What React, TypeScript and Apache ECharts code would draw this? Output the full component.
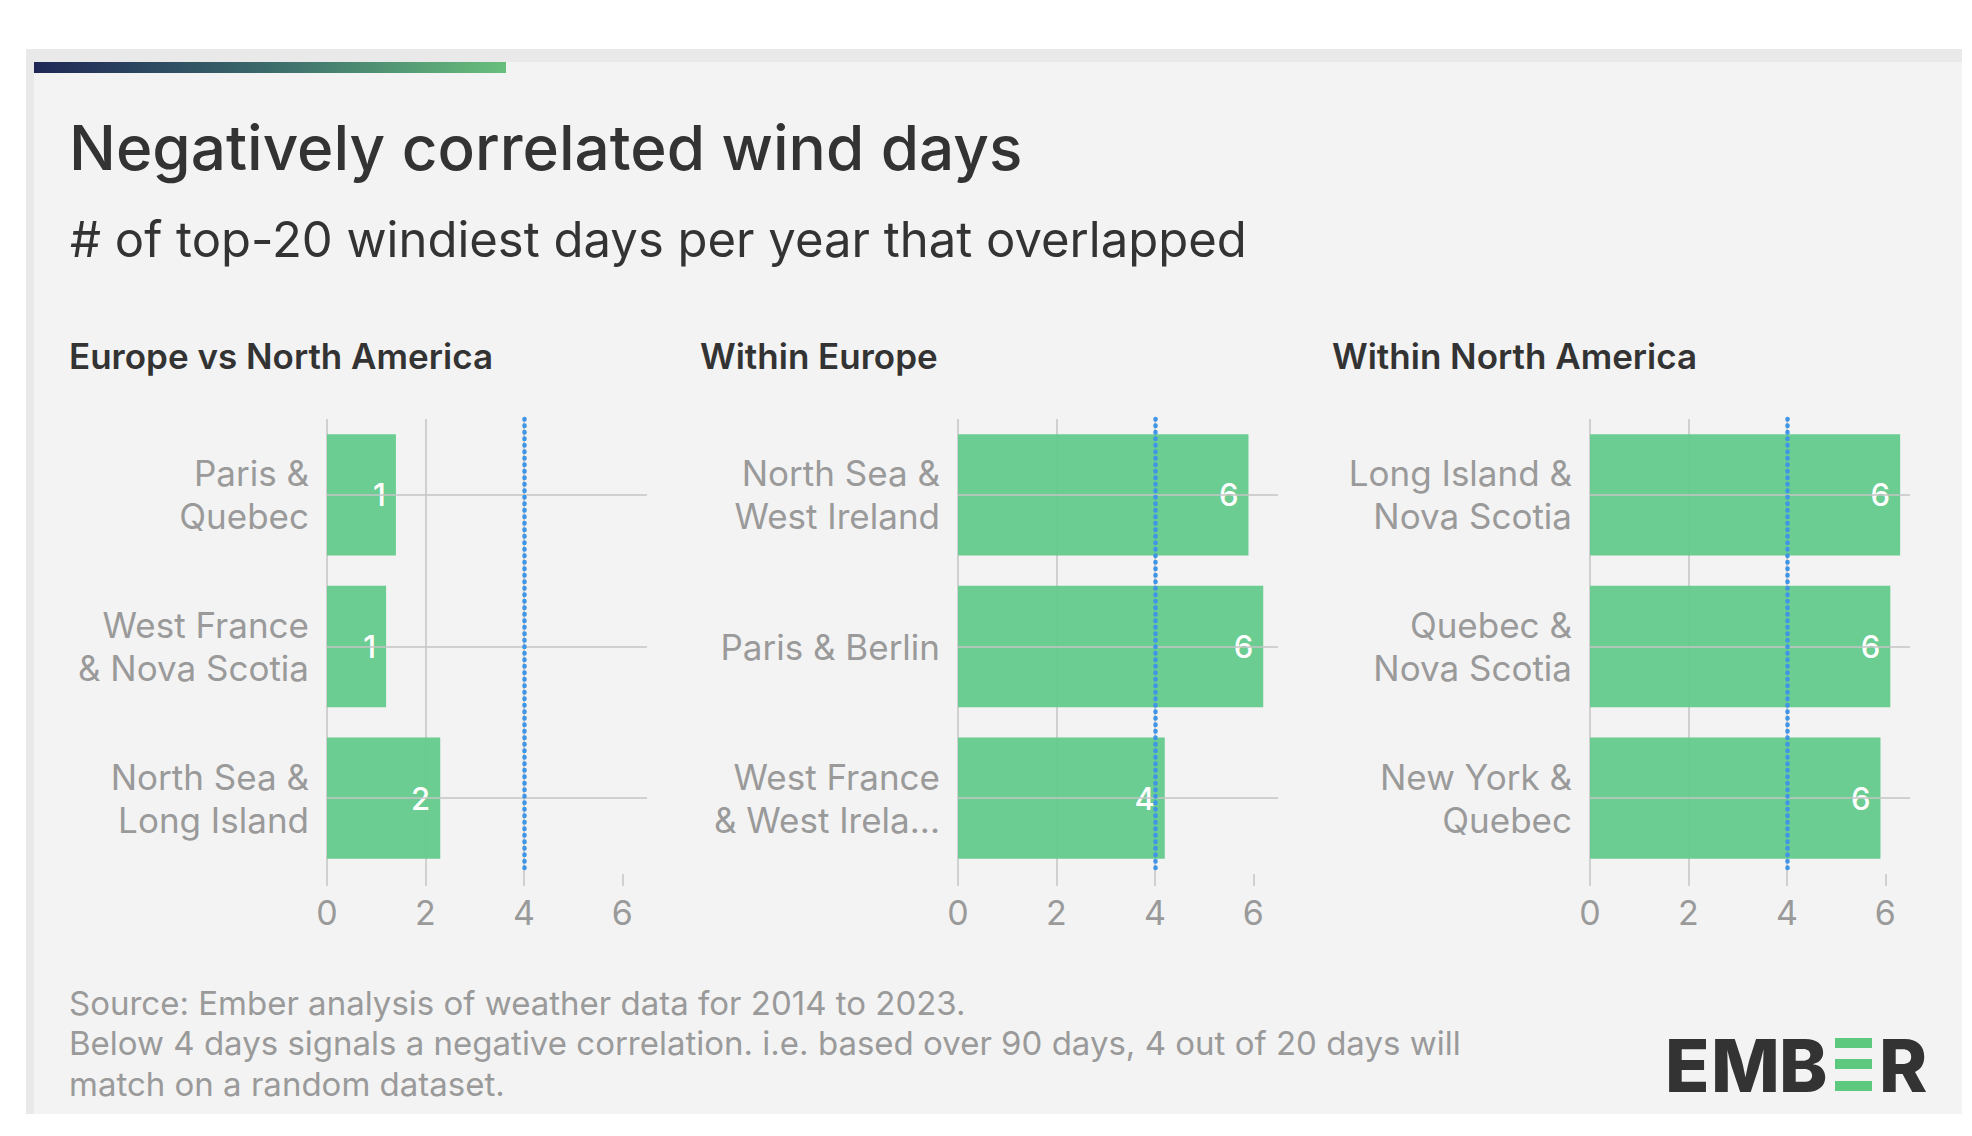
import React, { useEffect, useRef } from 'react';
import * as echarts from 'echarts';

const mainTitle = 'Negatively correlated wind days';
const subTitle = '# of top-20 windiest days per year that overlapped';
const panelTitles = ['Europe vs North America', 'Within Europe', 'Within North America'];

const categories1 = ['Paris &\nQuebec', 'West France\n& Nova Scotia', 'North Sea &\nLong Island'];
const values1 = [1.4, 1.2, 2.3];
const categories2 = ['North Sea &\nWest Ireland', 'Paris & Berlin', 'West France\n& West Irela...'];
const values2 = [5.9, 6.2, 4.2];
const categories3 = ['Long Island &\nNova Scotia', 'Quebec &\nNova Scotia', 'New York &\nQuebec'];
const values3 = [6.3, 6.1, 5.9];

const xTicks = [0, 2, 4, 6];
const xMax = 6.5;
const threshold = 4;

const footerLines = [
  'Source: Ember analysis of weather data for 2014 to 2023.',
  'Below 4 days signals a negative correlation. i.e. based over 90 days, 4 out of 20 days will',
  'match on a random dataset.',
];

const FONT = 'Inter, "Noto Sans", sans-serif';
const GRAY = '#9a9a9a';
const DARK = '#333333';
const GRID_LEFTS = [327, 958, 1590];
const PANEL_TITLE_X = [69, 700, 1332];

export default function App() {
  const ref = useRef<HTMLDivElement>(null);

  useEffect(() => {
    document.body.style.margin = '0';
    const chart = echarts.init(ref.current!, undefined, { renderer: 'svg' });
    const panels = [
      { cats: categories1, vals: values1 },
      { cats: categories2, vals: values2 },
      { cats: categories3, vals: values3 },
    ];

    const grid = panels.map((_, i) => ({
      left: GRID_LEFTS[i],
      top: 419,
      width: 320,
      height: 455,
    }));

    const xAxis = panels.map((_, i) => ({
      type: 'value',
      gridIndex: i,
      min: 0,
      max: xMax,
      interval: 2,
      axisLine: { show: false },
      axisTick: {
        show: true,
        length: 12,
        customValues: xTicks,
        lineStyle: { color: '#c4c4c4', width: 1.5 },
      },
      axisLabel: {
        color: GRAY,
        fontFamily: FONT,
        fontSize: 34,
        margin: 21,
        customValues: xTicks,
        formatter: (v: number) => (xTicks.includes(v) ? String(v) : ''),
      },
      splitLine: {
        show: true,
        showMaxLine: false,
        lineStyle: { color: '#c4c4c4', width: 1.5 },
      },
    }));

    const yAxis = panels.map((p, i) => ({
      type: 'category',
      gridIndex: i,
      inverse: true,
      data: p.cats,
      axisLine: { show: false },
      axisTick: { show: false },
      splitLine: { show: false },
      axisLabel: {
        color: GRAY,
        fontFamily: FONT,
        fontSize: 35,
        lineHeight: 43,
        margin: 18,
        align: 'right',
      },
    }));

    const series: any[] = [];
    panels.forEach((p, i) => {
      series.push({
        type: 'line',
        xAxisIndex: i,
        yAxisIndex: i,
        data: [],
        z: 1,
        silent: true,
        markLine: {
          silent: true,
          symbol: 'none',
          label: { show: false },
          lineStyle: { color: '#c4c4c4', width: 1.5, type: 'solid' },
          data: p.cats.map((_, k) => ({ yAxis: k })),
        },
      });
      series.push({
        type: 'bar',
        xAxisIndex: i,
        yAxisIndex: i,
        data: p.vals,
        barCategoryGap: '20%',
        z: 2,
        itemStyle: { color: 'rgba(96, 202, 138, 0.92)' },
        label: {
          show: true,
          position: 'insideRight',
          distance: 10,
          color: '#ffffff',
          fontFamily: FONT,
          fontSize: 31,
          fontWeight: 500,
          formatter: (d: any) => String(Math.round(d.value)),
        },
        markLine: {
          silent: true,
          symbol: 'none',
          label: { show: false },
          lineStyle: { color: '#3f95e6', width: 4.5, type: [0.5, 6], cap: 'round' },
          data: [{ xAxis: threshold }],
        },
      });
    });

    const graphic: any[] = [
      { type: 'rect', z: -10, shape: { x: 26, y: 49, width: 1936, height: 1065 }, style: { fill: '#e9e9e9' } },
      { type: 'rect', z: -9, shape: { x: 34, y: 62, width: 1928, height: 1052 }, style: { fill: '#f3f3f3' } },
      {
        type: 'rect',
        z: -8,
        shape: { x: 34, y: 62, width: 472, height: 11 },
        style: {
          fill: new echarts.graphic.LinearGradient(0, 0, 1, 0, [
            { offset: 0, color: '#1f2756' },
            { offset: 0.5, color: '#3b6b6b' },
            { offset: 1, color: '#68bf7c' },
          ]),
        },
      },
      {
        type: 'text',
        x: 69,
        y: 147,
        style: { text: mainTitle, font: `500 62px ${FONT}`, fill: DARK, verticalAlign: 'middle' },
      },
      {
        type: 'text',
        x: 70,
        y: 239,
        style: { text: subTitle, font: `400 49px ${FONT}`, fill: DARK, verticalAlign: 'middle' },
      },
      ...panelTitles.map((t, i) => ({
        type: 'text',
        x: PANEL_TITLE_X[i],
        y: 356,
        style: { text: t, font: `600 35px ${FONT}`, fill: DARK, verticalAlign: 'middle' },
      })),
      ...footerLines.map((t, i) => ({
        type: 'text',
        x: 69,
        y: 1002.5 + i * 40.5,
        style: { text: t, font: `400 33px ${FONT}`, fill: GRAY, verticalAlign: 'middle' },
      })),
      // EMBER logo
      ...[
        ['E', 1665],
        ['M', 1711],
        ['B', 1779],
        ['R', 1879],
      ].map(([ch, x]) => ({
        type: 'text',
        x: x as number,
        y: 1065,
        style: { text: ch as string, font: `800 73px ${FONT}`, fill: DARK, verticalAlign: 'middle' },
      })),
      ...[1038, 1059, 1081].map((y) => ({
        type: 'rect',
        shape: { x: 1835, y, width: 37, height: 10 },
        style: { fill: '#5cc97e' },
      })),
    ];

    chart.setOption({
      animation: false,
      backgroundColor: '#ffffff',
      grid,
      xAxis,
      yAxis,
      series,
      graphic,
    });

    return () => chart.dispose();
  }, []);

  return <div ref={ref} style={{ width: 1972, height: 1136, position: 'absolute', left: 0, top: 0 }} />;
}
